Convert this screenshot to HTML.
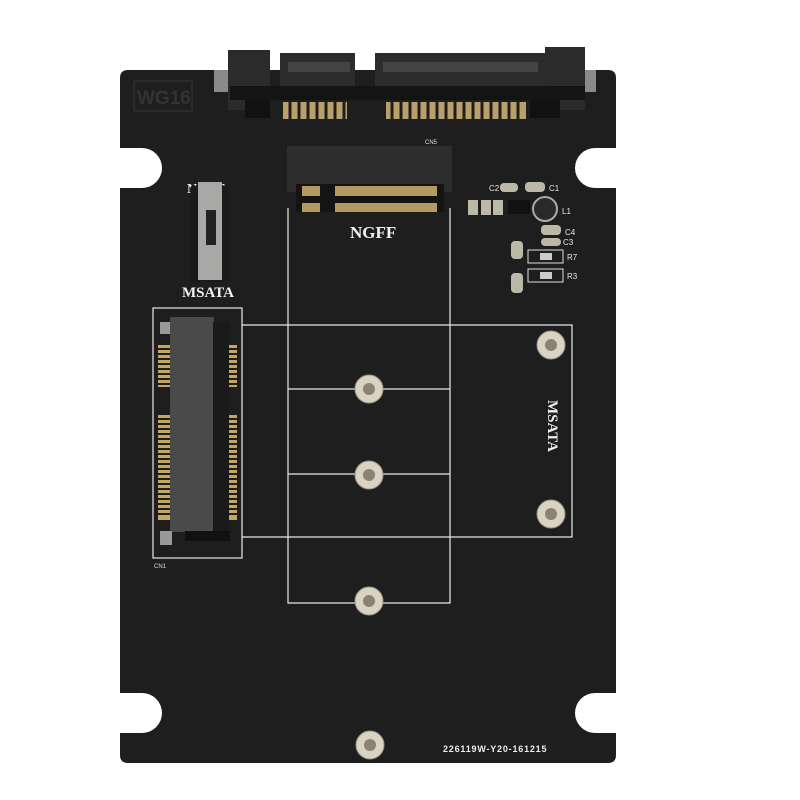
<!DOCTYPE html>
<html><head><style>body{margin:0;background:#fff}svg{display:block}</style></head><body>
<svg width="800" height="800" viewBox="0 0 800 800" xmlns="http://www.w3.org/2000/svg" font-family="Liberation Serif, serif">
<rect width="800" height="800" fill="#fff"/>
<path d="M128 70 H608 Q616 70 616 78 V148 H595 A20 20 0 0 0 595 188 H616 V693 H595 A20 20 0 0 0 595 733 H616 V755 Q616 763 608 763 H128 Q120 763 120 755 V733 H142 A20 20 0 0 0 142 693 H120 V188 H142 A20 20 0 0 0 142 148 H120 V78 Q120 70 128 70 Z" fill="#1e1e1f"/>
<rect x="134" y="81" width="58" height="30" fill="none" stroke="#2a2a2a" stroke-width="2"/>
<text x="137" y="104" font-family="Liberation Sans, sans-serif" font-weight="bold" font-size="19" fill="#333">WG16</text>
<rect x="214" y="70" width="18" height="22" fill="#8a8a88"/>
<rect x="577" y="70" width="19" height="22" fill="#8a8a88"/>
<rect x="228" y="50" width="42" height="60" fill="#2b2b2b"/>
<rect x="545" y="47" width="40" height="63" fill="#2b2b2b"/>
<rect x="280" y="53" width="75" height="35" fill="#2c2c2c"/>
<rect x="375" y="53" width="172" height="35" fill="#2c2c2c"/>
<rect x="230" y="86" width="355" height="14" fill="#141414"/>
<g fill="#444">
<rect x="288" y="62" width="62" height="10"/><rect x="383" y="62" width="155" height="10"/>
</g>
<rect x="245" y="100" width="25" height="18" fill="#111"/>
<rect x="530" y="100" width="30" height="18" fill="#111"/>
<g fill="#b9a06a">
<rect x="283" y="102" width="64" height="17"/>
<rect x="386" y="102" width="140" height="17"/>
</g>
<g stroke="#1e1e1f" stroke-width="3">
<path d="M290 102V119M299 102V119M308 102V119M317 102V119M326 102V119M335 102V119M344 102V119"/>
<path d="M392 102V119M401 102V119M410 102V119M419 102V119M428 102V119M437 102V119M446 102V119M455 102V119M464 102V119M473 102V119M482 102V119M491 102V119M500 102V119M509 102V119M518 102V119"/>
</g>
<rect x="287" y="146" width="165" height="46" fill="#2d2d2d"/>
<rect x="296" y="184" width="148" height="28" fill="#141414"/>
<rect x="302" y="186" width="18" height="10" fill="#b49a60"/>
<rect x="335" y="186" width="102" height="10" fill="#b49a60"/>
<rect x="302" y="203" width="18" height="9" fill="#b49a60"/>
<rect x="335" y="203" width="102" height="9" fill="#b49a60"/>
<text x="425" y="144" font-family="Liberation Sans, sans-serif" font-size="6" fill="#ddd">CN5</text>
<text x="350" y="238" font-size="17" font-weight="bold" fill="#f2f2f2">NGFF</text>
<text x="187" y="193" font-size="14" font-weight="bold" fill="#eee">NGFF</text>
<rect x="191" y="186" width="38" height="96" fill="#1a1a1a"/>
<rect x="198" y="182" width="24" height="98" fill="#a8a8a6"/>
<rect x="206" y="210" width="10" height="35" fill="#222"/>
<text x="182" y="297" font-size="15" font-weight="bold" fill="#f2f2f2">MSATA</text>
<g fill="#bcb8a8">
<rect x="468" y="200" width="10" height="15"/><rect x="481" y="200" width="10" height="15"/><rect x="493" y="200" width="10" height="15"/>
<rect x="500" y="183" width="18" height="9" rx="4"/><rect x="525" y="182" width="20" height="10" rx="4"/>
<rect x="541" y="225" width="20" height="10" rx="4"/><rect x="541" y="238" width="20" height="8" rx="4"/>
<rect x="511" y="241" width="12" height="18" rx="4"/><rect x="511" y="273" width="12" height="20" rx="4"/>
</g>
<rect x="508" y="200" width="22" height="14" fill="#111"/>
<circle cx="545" cy="209" r="12" fill="#2a2a2a" stroke="#aaa" stroke-width="2"/>
<rect x="528" y="250" width="35" height="13" fill="none" stroke="#ddd"/>
<rect x="528" y="269" width="35" height="13" fill="none" stroke="#ddd"/>
<rect x="540" y="253" width="12" height="7" fill="#ccc"/>
<rect x="540" y="272" width="12" height="7" fill="#ccc"/>
<g font-family="Liberation Sans, sans-serif" font-size="8" fill="#e6e6e6">
<text x="489" y="191">C2</text><text x="549" y="191">C1</text><text x="562" y="214">L1</text>
<text x="565" y="235">C4</text><text x="563" y="245">C3</text><text x="567" y="260">R7</text><text x="567" y="279">R3</text>
</g>
<g stroke="#e8e8e8" stroke-width="1.2" fill="none">
<rect x="153" y="308" width="89" height="250"/>
<path d="M242 325H572V537H242"/>
<path d="M288 208V603H450V208"/>
<path d="M288 389H450M288 474H450"/>
</g>
<g fill="#c2a661">
<rect x="158" y="345" width="14" height="42"/><rect x="158" y="415" width="14" height="105"/>
<rect x="212" y="345" width="25" height="42"/><rect x="212" y="415" width="25" height="105"/>
</g>
<g stroke="#1e1e1f" stroke-width="2">
<path d="M158 349H237M158 354H237M158 359H237M158 364H237M158 369H237M158 374H237M158 379H237M158 384H237"/>
<path d="M158 419H237M158 424H237M158 429H237M158 434H237M158 439H237M158 444H237M158 449H237M158 454H237M158 459H237M158 464H237M158 469H237M158 474H237M158 479H237M158 484H237M158 489H237M158 494H237M158 499H237M158 504H237M158 509H237M158 514H237"/>
</g>
<rect x="170" y="317" width="44" height="215" fill="#4a4a4b"/>
<rect x="213" y="322" width="16" height="210" fill="#1a1a1a"/>
<rect x="160" y="322" width="10" height="12" fill="#999"/>
<rect x="160" y="531" width="12" height="14" fill="#999"/>
<rect x="185" y="531" width="45" height="10" fill="#111"/>
<text x="154" y="568" font-family="Liberation Sans, sans-serif" font-size="6" fill="#ddd">CN1</text>
<text transform="translate(548,400) rotate(90)" font-size="15" font-weight="bold" fill="#eee">MSATA</text>
<g fill="#d8d3c2" stroke="#9a9585" stroke-width="1">
<circle cx="369" cy="389" r="14"/><circle cx="369" cy="475" r="14"/><circle cx="369" cy="601" r="14"/>
<circle cx="551" cy="345" r="14"/><circle cx="551" cy="514" r="14"/><circle cx="370" cy="745" r="14"/>
</g>
<g fill="#8a8373">
<circle cx="369" cy="389" r="6"/><circle cx="369" cy="475" r="6"/><circle cx="369" cy="601" r="6"/>
<circle cx="551" cy="345" r="6"/><circle cx="551" cy="514" r="6"/><circle cx="370" cy="745" r="6"/>
</g>
<text x="443" y="752" font-family="Liberation Sans, sans-serif" font-weight="bold" font-size="9" letter-spacing="0.8" fill="#eee">226119W-Y20-161215</text>
</svg>
</body></html>
